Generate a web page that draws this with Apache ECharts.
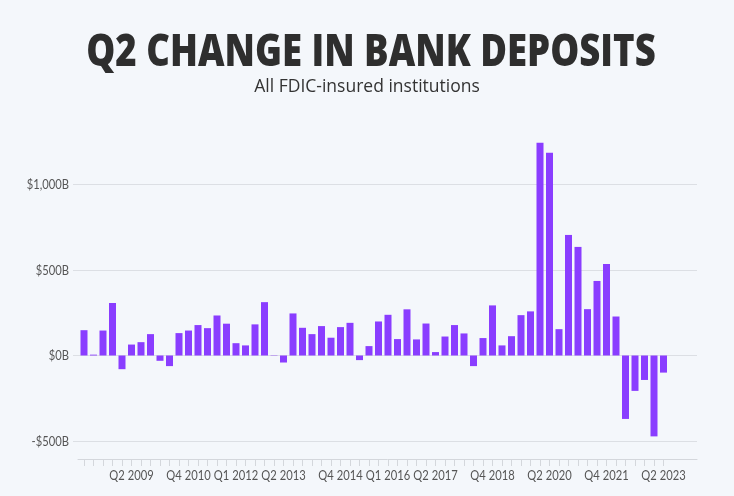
<!DOCTYPE html>
<html>
<head>
<meta charset="utf-8">
<script src="https://cdn.jsdelivr.net/npm/echarts@6/dist/echarts.min.js"></script>
<style>
html,body{margin:0;padding:0;background:#f4f7fb;}
#chart{width:734px;height:496px;}
</style>
</head>
<body>
<div id="chart"></div>
<script>
const categories = [
  'Q1 2008','Q2 2008','Q3 2008','Q4 2008',
  'Q1 2009','Q2 2009','Q3 2009','Q4 2009',
  'Q1 2010','Q2 2010','Q3 2010','Q4 2010',
  'Q1 2011','Q2 2011','Q3 2011','Q4 2011',
  'Q1 2012','Q2 2012','Q3 2012','Q4 2012',
  'Q1 2013','Q2 2013','Q3 2013','Q4 2013',
  'Q1 2014','Q2 2014','Q3 2014','Q4 2014',
  'Q1 2015','Q2 2015','Q3 2015','Q4 2015',
  'Q1 2016','Q2 2016','Q3 2016','Q4 2016',
  'Q1 2017','Q2 2017','Q3 2017','Q4 2017',
  'Q1 2018','Q2 2018','Q3 2018','Q4 2018',
  'Q1 2019','Q2 2019','Q3 2019','Q4 2019',
  'Q1 2020','Q2 2020','Q3 2020','Q4 2020',
  'Q1 2021','Q2 2021','Q3 2021','Q4 2021',
  'Q1 2022','Q2 2022','Q3 2022','Q4 2022',
  'Q1 2023','Q2 2023'
];
const depositChange = [
  148, 5, 146, 307,
  -80, 64, 78, 125,
  -31, -62, 131, 146,
  178, 160, 234, 186,
  72, 59, 182, 312,
  2, -41, 246, 162,
  125, 172, 104, 166,
  191, -27, 55, 199,
  238, 96, 270, 94,
  187, 20, 111, 178,
  129, -62, 102, 293,
  59, 113, 236, 258,
  1244, 1185, 154, 705,
  635, 271, 436, 535,
  228, -371, -207, -143,
  -473, -100
];
const tickLabels = ['Q2 2009','Q4 2010','Q1 2012','Q2 2013','Q4 2014','Q1 2016','Q2 2017','Q4 2018','Q2 2020','Q4 2021','Q2 2023'];
const yTicks = [-500, 0, 500, 1000];

const chart = echarts.init(document.getElementById('chart'));
const labelFont = '14px Lato, "Open Sans", sans-serif';
function fmt(v){
  const a = Math.abs(v).toLocaleString('en-US');
  return (v < 0 ? '-$' : '$') + a + 'B';
}
const yBase = {min: -500, max: 1500, interval: 500};
const titleGraphic = {id: 'title', type: 'text', x: 371, y: 53, scaleX: 0.83, scaleY: 1,
  style: {text: 'Q2 CHANGE IN BANK DEPOSITS', fill: '#2e2e2e',
    font: '800 44px "Open Sans", sans-serif', align: 'center', verticalAlign: 'middle'}};
chart.setOption({
  backgroundColor: '#f4f7fb',
  animation: false,
  title: [
    {text: 'All FDIC-insured institutions', left: 'center', top: 73,
     textStyle: {fontFamily: '"Open Sans",sans-serif', fontWeight: 400, fontSize: 17.5, color: '#333'}}
  ],
  graphic: [titleGraphic],
  grid: [
    {left: 79.25, right: 65.75, top: 99, bottom: 55},
    {left: 73, right: 37, top: 99, bottom: 55},
    {left: 78, right: 37, top: 99, bottom: 55}
  ],
  xAxis: [
    {type: 'category', gridIndex: 0, data: categories, offset: 18, position: 'bottom',
     axisLine: {show: false, onZero: false},
     axisTick: {show: true, alignWithLabel: true, interval: 0, length: 7, lineStyle: {color: '#d4d7dc'}},
     axisLabel: {show: false}},
    {type: 'value', gridIndex: 1, show: false},
    {type: 'value', gridIndex: 2, offset: 18,
     axisLine: {show: true, onZero: false, lineStyle: {color: '#d4d7dc'}},
     axisTick: {show: false}, axisLabel: {show: false}, splitLine: {show: false}}
  ],
  yAxis: [
    Object.assign({type: 'value', gridIndex: 0, show: false}, yBase),
    Object.assign({type: 'value', gridIndex: 1,
     axisLine: {show: false}, axisTick: {show: false},
     axisLabel: {show: false},
     splitLine: {show: true, showMaxLine: false, lineStyle: {color: ['#dcdfe4','#dcdfe4','#dcdfe4','#dcdfe4','rgba(0,0,0,0)']}}}, yBase),
    Object.assign({type: 'value', gridIndex: 2, show: false}, yBase)
  ],
  series: [
    {type: 'bar', xAxisIndex: 0, yAxisIndex: 0, data: depositChange, barWidth: 7,
     itemStyle: {color: '#8a3dff'}}
  ]
});
// tick labels placed through the axis scales, with a condensed look
const axisBottom = chart.convertToPixel({yAxisIndex: 1}, yBase.min);
const gridLeft = chart.convertToPixel({xAxisIndex: 1}, 0) !== undefined ? 73 : 73;
const xLabelGraphics = tickLabels.map(function(name, i){
  const px = chart.convertToPixel({xAxisIndex: 0}, name);
  return {id: 'xl' + i, type: 'text', x: px, y: axisBottom + 34, scaleX: 0.8, scaleY: 1,
    style: {text: name, fill: '#555', font: labelFont, align: 'center', verticalAlign: 'middle'}};
});
const yLabelGraphics = yTicks.map(function(v, i){
  const py = chart.convertToPixel({yAxisIndex: 1}, v);
  return {id: 'yl' + i, type: 'text', x: gridLeft - 4, y: py, scaleX: 0.8, scaleY: 1,
    style: {text: fmt(v), fill: '#555', font: labelFont, align: 'right', verticalAlign: 'middle'}};
});
chart.setOption({graphic: [titleGraphic].concat(xLabelGraphics, yLabelGraphics)});
</script>
</body>
</html>
